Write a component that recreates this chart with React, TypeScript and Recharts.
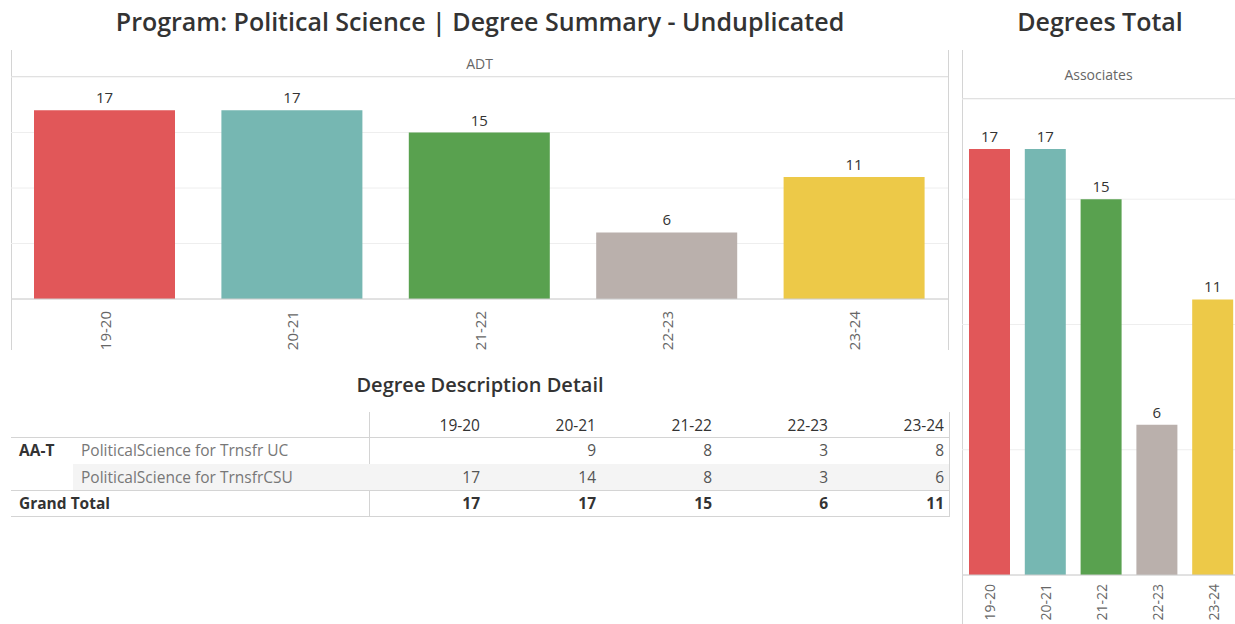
import React from "react";
import { BarChart, Bar, XAxis, YAxis, CartesianGrid, Cell, LabelList } from "recharts";

const years = ["19-20", "20-21", "21-22", "22-23", "23-24"];
const adtValues = [17, 17, 15, 6, 11];
const associatesValues = [17, 17, 15, 6, 11];
const ucValues: (number | null)[] = [null, 9, 8, 3, 8];
const csuValues: (number | null)[] = [17, 14, 8, 3, 6];
const grandTotals = [17, 17, 15, 6, 11];
const colors = ["#E15759", "#76B7B2", "#59A14F", "#BAB0AC", "#EDC948"];

const FONT = "'Open Sans', 'Noto Sans', sans-serif";

const adtData = years.map((y, i) => ({ year: y, value: adtValues[i] }));
const assocData = years.map((y, i) => ({ year: y, value: associatesValues[i] }));

const makeTick = (dy: number, size: number) => (props: any) => {
  const { x, y, payload } = props;
  const ty = y + dy;
  return (
    <text
      x={x}
      y={ty}
      transform={`rotate(-90 ${x} ${ty})`}
      textAnchor="end"
      dominantBaseline="central"
      fontSize={size}
      fill="#666"
      fontFamily={FONT}
    >
      {payload.value}
    </text>
  );
};
const LeftTick = makeTick(4, 15);
const RightTick = makeTick(1, 14);

const abs = (s: React.CSSProperties): React.CSSProperties => ({ position: "absolute", ...s });

const colEdges = [369, 485, 601, 717, 833, 949];
const TS = 15.5;

export default function App() {
  const rows = [
    { top: 437, h: 27, label1: "AA-T", label2: "PoliticalScience for Trnsfr UC", vals: ucValues, shade: false },
    { top: 464, h: 26, label1: "", label2: "PoliticalScience for TrnsfrCSU", vals: csuValues, shade: true },
  ];
  return (
    <div style={{ position: "absolute", left: 0, top: 0, width: 1235, height: 624, overflow: "hidden", background: "#fff", fontFamily: FONT }}>
      {/* Titles */}
      <div style={abs({ left: 0, top: 4, width: 960, textAlign: "center", fontSize: 25, color: "#333", fontWeight: 600 })}>
        Program: Political Science | Degree Summary - Unduplicated
      </div>
      <div style={abs({ left: 962, top: 4, width: 276, textAlign: "center", fontSize: 25, color: "#333", fontWeight: 600 })}>
        Degrees Total
      </div>

      {/* Left chart frame */}
      <div style={abs({ left: 11, top: 50, width: 937, height: 26, borderBottom: "1px solid #d4d4d4", textAlign: "center", fontSize: 14, lineHeight: "28px", color: "#666" })}>
        ADT
      </div>
      <div style={abs({ left: 11, top: 50, width: 1, height: 300, background: "#d4d4d4" })} />
      <div style={abs({ left: 948, top: 50, width: 1, height: 300, background: "#d4d4d4" })} />
      <div style={abs({ left: 11, top: 50 })}>
        <BarChart width={937} height={300} data={adtData} margin={{ top: 27, right: 0, left: 0, bottom: 0 }}>
          <CartesianGrid vertical={false} stroke="#eeeeee" />
          <YAxis hide domain={[0, 20]} ticks={[0, 5, 10, 15, 20]} />
          <XAxis dataKey="year" height={51} tickLine={false} axisLine={{ stroke: "#cccccc" }} tick={<LeftTick />} interval={0} />
          <Bar dataKey="value" barSize={141} isAnimationActive={false}>
            {adtData.map((d, i) => (
              <Cell key={d.year} fill={colors[i]} />
            ))}
            <LabelList dataKey="value" position="top" offset={7} fill="#333" fontSize={15} fontFamily={FONT} />
          </Bar>
        </BarChart>
      </div>

      {/* Right chart frame */}
      <div style={abs({ left: 962, top: 50, width: 273, height: 48, borderBottom: "1px solid #d4d4d4", textAlign: "center", fontSize: 14, lineHeight: "50px", color: "#666" })}>
        Associates
      </div>
      <div style={abs({ left: 962, top: 50, width: 1, height: 574, background: "#d4d4d4" })} />
      <div style={abs({ left: 962, top: 50 })}>
        <BarChart width={279} height={574} data={assocData} margin={{ top: 49, right: 0, left: 0, bottom: 0 }}>
          <CartesianGrid vertical={false} stroke="#eeeeee" />
          <YAxis hide domain={[0, 19]} ticks={[0, 5, 10, 15]} allowDataOverflow />
          <XAxis dataKey="year" height={49} tickLine={false} axisLine={{ stroke: "#cccccc" }} tick={<RightTick />} interval={0} />
          <Bar dataKey="value" barSize={41} isAnimationActive={false}>
            {assocData.map((d, i) => (
              <Cell key={d.year} fill={colors[i]} />
            ))}
            <LabelList dataKey="value" position="top" offset={7} fill="#333" fontSize={15} fontFamily={FONT} />
          </Bar>
        </BarChart>
      </div>

      {/* Table */}
      <div style={abs({ left: 0, top: 371, width: 960, textAlign: "center", fontSize: 20, color: "#333", fontWeight: 600 })}>
        Degree Description Detail
      </div>
      <div style={abs({ left: 369, top: 412, width: 1, height: 105, background: "#d4d4d4" })} />
      <div style={abs({ left: 949, top: 412, width: 1, height: 105, background: "#d4d4d4" })} />
      {years.map((y, i) => (
        <div key={y} style={abs({ left: colEdges[i], top: 412, width: colEdges[i + 1] - colEdges[i] - 5, height: 25, lineHeight: "26px", textAlign: "right", fontSize: TS, color: "#333", fontWeight: 500 })}>
          {y}
        </div>
      ))}
      <div style={abs({ left: 11, top: 437, width: 938, height: 1, background: "#d4d4d4" })} />
      {rows.map((r) => (
        <React.Fragment key={r.label2}>
          {r.shade && <div style={abs({ left: 73, top: r.top, width: 876, height: r.h, background: "#f4f4f4" })} />}
          <div style={abs({ left: 19, top: r.top, height: r.h, lineHeight: `${r.h}px`, fontSize: TS, color: "#333", fontWeight: 700 })}>{r.label1}</div>
          <div style={abs({ left: 81, top: r.top, height: r.h, lineHeight: `${r.h}px`, fontSize: TS, color: "#777" })}>{r.label2}</div>
          {r.vals.map((v, i) => (
            <div key={i} style={abs({ left: colEdges[i], top: r.top, width: colEdges[i + 1] - colEdges[i] - 5, height: r.h, lineHeight: `${r.h}px`, textAlign: "right", fontSize: TS, color: "#555" })}>
              {v === null ? "" : v}
            </div>
          ))}
        </React.Fragment>
      ))}
      <div style={abs({ left: 11, top: 490, width: 938, height: 1, background: "#d4d4d4" })} />
      <div style={abs({ left: 19, top: 490, height: 26, lineHeight: "27px", fontSize: TS, color: "#333", fontWeight: 700 })}>Grand Total</div>
      {grandTotals.map((v, i) => (
        <div key={i} style={abs({ left: colEdges[i], top: 490, width: colEdges[i + 1] - colEdges[i] - 5, height: 26, lineHeight: "27px", textAlign: "right", fontSize: TS, color: "#333", fontWeight: 700 })}>
          {v}
        </div>
      ))}
      <div style={abs({ left: 11, top: 516, width: 938, height: 1, background: "#d4d4d4" })} />
    </div>
  );
}
